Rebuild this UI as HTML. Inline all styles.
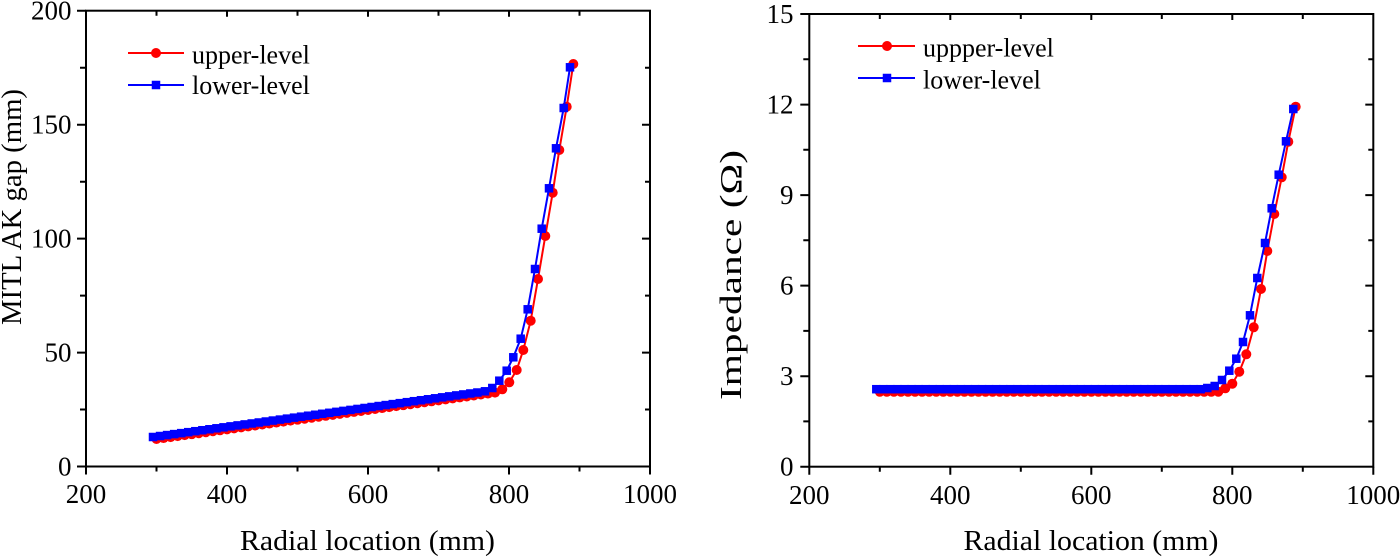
<!DOCTYPE html>
<html><head><meta charset="utf-8"><style>
html,body{margin:0;padding:0;background:#fff;}
svg{display:block;}
text{font-family:"Liberation Serif",serif;fill:#000;}
</style></head><body>
<svg width="1400" height="558" viewBox="0 0 1400 558" xmlns="http://www.w3.org/2000/svg">
<defs>
<marker id="mc" markerUnits="userSpaceOnUse" markerWidth="12" markerHeight="12" refX="6" refY="6" viewBox="0 0 12 12" overflow="visible"><circle cx="6" cy="6" r="5" fill="#ff0000"/></marker>
<marker id="ms" markerUnits="userSpaceOnUse" markerWidth="12" markerHeight="12" refX="6" refY="6" viewBox="0 0 12 12" overflow="visible"><rect x="1.75" y="1.75" width="8.5" height="8.5" fill="#0000ff"/></marker>
</defs>
<rect width="1400" height="558" fill="#fff"/>

<!-- LEFT PLOT -->
<g stroke="#000" stroke-width="2" fill="none">
<rect x="86" y="10.7" width="564" height="455.8"/>
<path d="M86 466.5v8M156.5 466.5v5M227 466.5v8M297.5 466.5v5M368 466.5v8M438.5 466.5v5M509 466.5v8M579.5 466.5v5M650 466.5v8"/>
<path d="M156.5 10.7v5M227 10.7v6M297.5 10.7v5M368 10.7v6M438.5 10.7v5M509 10.7v6M579.5 10.7v5"/>
<path d="M86 466.5h-9M86 409.5h-6M86 352.6h-9M86 295.6h-6M86 238.6h-9M86 181.7h-6M86 124.7h-9M86 67.7h-6M86 10.7h-9"/>
<path d="M650 409.5h-5M650 352.6h-8M650 295.6h-5M650 238.6h-8M650 181.7h-5M650 124.7h-8M650 67.7h-5"/>
</g>
<g font-size="27" text-anchor="middle">
<text x="86" y="503">200</text><text x="227" y="503">400</text><text x="368" y="503">600</text><text x="509" y="503">800</text><text x="650" y="503">1000</text>
</g>
<g font-size="27" text-anchor="end">
<text x="71.5" y="475.5">0</text><text x="71.5" y="361.6">50</text><text x="71.5" y="247.6">100</text><text x="71.5" y="133.7">150</text><text x="71.5" y="19.7">200</text>
</g>
<text x="367.5" y="550" font-size="28" text-anchor="middle" textLength="255" lengthAdjust="spacingAndGlyphs">Radial location (mm)</text>
<text transform="translate(21,207) rotate(-90)" font-size="28" text-anchor="middle" textLength="236" lengthAdjust="spacingAndGlyphs">MITL AK gap (mm)</text>

<polyline fill="none" stroke="#ff0000" stroke-width="2" marker-start="url(#mc)" marker-mid="url(#mc)" marker-end="url(#mc)" points="156.5,439 163.55,438.03 170.6,437.07 177.66,436.1 184.71,435.13 191.76,434.17 198.81,433.2 205.86,432.23 212.92,431.26 219.97,430.3 227.02,429.33 234.07,428.36 241.12,427.4 248.18,426.43 255.23,425.46 262.28,424.5 269.33,423.53 276.38,422.56 283.44,421.59 290.49,420.63 297.54,419.66 304.59,418.69 311.64,417.73 318.7,416.76 325.75,415.79 332.8,414.83 339.85,413.86 346.9,412.89 353.96,411.92 361.01,410.96 368.06,409.99 375.11,409.02 382.16,408.06 389.22,407.09 396.27,406.12 403.32,405.16 410.37,404.19 417.42,403.22 424.48,402.25 431.53,401.29 438.58,400.32 445.63,399.35 452.68,398.39 459.74,397.42 466.79,396.45 473.84,395.49 480.89,394.52 487.94,393.55 495,392.6 502.3,389.3 509.3,382.3 516.7,370 523.3,350 530.7,320.7 538,279 545.3,236 552.7,192.7 559.3,150 566.7,106.7 573.3,64"/>
<polyline fill="none" stroke="#0000ff" stroke-width="2" marker-start="url(#ms)" marker-mid="url(#ms)" marker-end="url(#ms)" points="153,437 160.05,436.03 167.1,435.07 174.16,434.1 181.21,433.13 188.26,432.16 195.31,431.2 202.36,430.23 209.42,429.26 216.47,428.29 223.52,427.33 230.57,426.36 237.62,425.39 244.68,424.42 251.73,423.46 258.78,422.49 265.83,421.52 272.88,420.55 279.94,419.59 286.99,418.62 294.04,417.65 301.09,416.68 308.14,415.72 315.2,414.75 322.25,413.78 329.3,412.81 336.35,411.85 343.4,410.88 350.46,409.91 357.51,408.94 364.56,407.98 371.61,407.01 378.66,406.04 385.72,405.07 392.77,404.11 399.82,403.14 406.87,402.17 413.92,401.2 420.98,400.24 428.03,399.27 435.08,398.3 442.13,397.33 449.18,396.37 456.24,395.4 463.29,394.43 470.34,393.46 477.39,392.5 485,391.3 492.3,388 499.3,380.7 506.7,370.7 513.3,357.3 520.7,338.7 527.7,309.3 535,269 541.7,228.7 549,188.3 556,148.3 563.7,108 570,67.3"/>

<line x1="128" y1="53" x2="184" y2="53" stroke="#ff0000" stroke-width="2"/>
<circle cx="156" cy="53" r="5" fill="#ff0000"/>
<line x1="128" y1="85" x2="184" y2="85" stroke="#0000ff" stroke-width="2"/>
<rect x="151.75" y="80.75" width="8.5" height="8.5" fill="#0000ff"/>
<text x="192" y="63.5" font-size="26">upper-level</text>
<text x="192" y="94" font-size="26">lower-level</text>

<!-- RIGHT PLOT -->
<g stroke="#000" stroke-width="2" fill="none">
<rect x="809.3" y="14" width="564" height="452.7"/>
<path d="M809.3 466.7v8M879.8 466.7v5M950.3 466.7v8M1020.8 466.7v5M1091.3 466.7v8M1161.8 466.7v5M1232.3 466.7v8M1302.8 466.7v5M1373.3 466.7v8"/>
<path d="M879.8 14v5M950.3 14v6M1020.8 14v5M1091.3 14v6M1161.8 14v5M1232.3 14v6M1302.8 14v5"/>
<path d="M809.3 466.7h-9M809.3 421.4h-6M809.3 376.2h-9M809.3 330.9h-6M809.3 285.6h-9M809.3 240.3h-6M809.3 195.1h-9M809.3 149.8h-6M809.3 104.6h-9M809.3 59.3h-6M809.3 14h-9"/>
<path d="M1373.3 421.4h-5M1373.3 376.2h-8M1373.3 330.9h-5M1373.3 285.6h-8M1373.3 240.3h-5M1373.3 195.1h-8M1373.3 149.8h-5M1373.3 104.6h-8M1373.3 59.3h-5"/>
</g>
<g font-size="27" text-anchor="middle">
<text x="809.3" y="504">200</text><text x="950.3" y="504">400</text><text x="1091.3" y="504">600</text><text x="1232.3" y="504">800</text><text x="1373.3" y="504">1000</text>
</g>
<g font-size="27" text-anchor="end">
<text x="793.5" y="475.7">0</text><text x="793.5" y="385.2">3</text><text x="793.5" y="294.6">6</text><text x="793.5" y="204.1">9</text><text x="793.5" y="113.6">12</text><text x="793.5" y="23">15</text>
</g>
<text x="1091" y="550" font-size="28" text-anchor="middle" textLength="255" lengthAdjust="spacingAndGlyphs">Radial location (mm)</text>
<text transform="translate(741,275) rotate(-90)" font-size="31" text-anchor="middle" textLength="250" lengthAdjust="spacingAndGlyphs">Impedance (Ω)</text>

<polyline fill="none" stroke="#ff0000" stroke-width="2" marker-start="url(#mc)" marker-mid="url(#mc)" marker-end="url(#mc)" points="879.8,391.8 886.85,391.8 893.9,391.8 900.96,391.8 908.01,391.8 915.06,391.8 922.11,391.8 929.16,391.8 936.22,391.8 943.27,391.8 950.32,391.8 957.37,391.8 964.42,391.8 971.48,391.8 978.53,391.8 985.58,391.8 992.63,391.8 999.68,391.8 1006.74,391.8 1013.79,391.8 1020.84,391.8 1027.89,391.8 1034.94,391.8 1042,391.8 1049.05,391.8 1056.1,391.8 1063.15,391.8 1070.2,391.8 1077.26,391.8 1084.31,391.8 1091.36,391.8 1098.41,391.8 1105.46,391.8 1112.52,391.8 1119.57,391.8 1126.62,391.8 1133.67,391.8 1140.72,391.8 1147.78,391.8 1154.83,391.8 1161.88,391.8 1168.93,391.8 1175.98,391.8 1183.04,391.8 1190.09,391.8 1197.14,391.8 1204.19,391.8 1211.24,391.8 1218.3,391.7 1225.3,388.3 1232.3,383.7 1239.3,371.7 1246.3,354.3 1253.7,327.3 1261,289 1267.3,251 1274.3,214 1281.7,177.3 1288.3,141.7 1295.7,106.7"/>
<polyline fill="none" stroke="#0000ff" stroke-width="2" marker-start="url(#ms)" marker-mid="url(#ms)" marker-end="url(#ms)" points="876.3,389.2 883.35,389.2 890.4,389.2 897.46,389.2 904.51,389.2 911.56,389.2 918.61,389.2 925.66,389.2 932.72,389.2 939.77,389.2 946.82,389.2 953.87,389.2 960.92,389.2 967.98,389.2 975.03,389.2 982.08,389.2 989.13,389.2 996.18,389.2 1003.24,389.2 1010.29,389.2 1017.34,389.2 1024.39,389.2 1031.44,389.2 1038.5,389.2 1045.55,389.2 1052.6,389.2 1059.65,389.2 1066.7,389.2 1073.76,389.2 1080.81,389.2 1087.86,389.2 1094.91,389.2 1101.96,389.2 1109.02,389.2 1116.07,389.2 1123.12,389.2 1130.17,389.2 1137.22,389.2 1144.28,389.2 1151.33,389.2 1158.38,389.2 1165.43,389.2 1172.48,389.2 1179.54,389.2 1186.59,389.2 1193.64,389.2 1200.69,389.2 1207.3,388 1214.7,386 1222,380 1229.3,370.7 1236.3,358.7 1243,342 1250,315.3 1257.3,278 1265,243 1271.7,208.3 1278.7,174.7 1286,141.3 1293.3,109"/>

<line x1="858" y1="46" x2="915" y2="46" stroke="#ff0000" stroke-width="2"/>
<circle cx="887" cy="46" r="5" fill="#ff0000"/>
<line x1="858" y1="78" x2="915" y2="78" stroke="#0000ff" stroke-width="2"/>
<rect x="882.75" y="73.75" width="8.5" height="8.5" fill="#0000ff"/>
<text x="923" y="56.5" font-size="26">uppper-level</text>
<text x="923" y="88.5" font-size="26">lower-level</text>
</svg>
</body></html>
